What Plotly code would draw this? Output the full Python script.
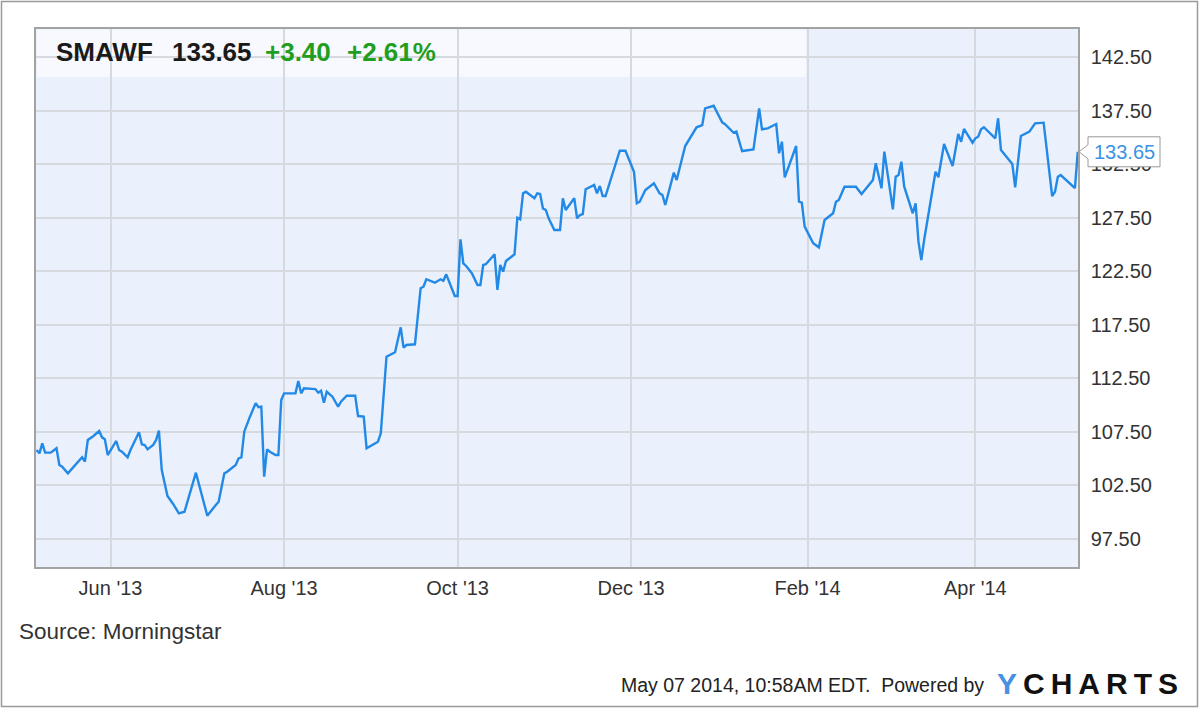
import plotly.graph_objects as go

# SMAWF daily close, May 2013 - May 2014
dates = [
    "2013-05-06", "2013-05-07", "2013-05-08", "2013-05-09", "2013-05-11", "2013-05-13", "2013-05-14", "2013-05-15", "2013-05-17", "2013-05-19",
    "2013-05-22", "2013-05-23", "2013-05-24", "2013-05-26", "2013-05-28", "2013-05-29", "2013-05-30", "2013-05-31", "2013-06-01", "2013-06-03",
    "2013-06-04", "2013-06-05", "2013-06-07", "2013-06-08", "2013-06-11", "2013-06-12", "2013-06-13", "2013-06-14", "2013-06-16", "2013-06-17",
    "2013-06-18", "2013-06-19", "2013-06-21", "2013-06-23", "2013-06-25", "2013-06-27", "2013-07-01", "2013-07-05", "2013-07-08", "2013-07-09",
    "2013-07-11", "2013-07-12", "2013-07-15", "2013-07-16", "2013-07-17", "2013-07-18", "2013-07-20", "2013-07-22", "2013-07-23", "2013-07-24",
    "2013-07-25", "2013-07-26", "2013-07-27", "2013-07-29", "2013-07-30", "2013-07-31", "2013-08-01", "2013-08-05", "2013-08-06", "2013-08-07",
    "2013-08-08", "2013-08-12", "2013-08-13", "2013-08-14", "2013-08-15", "2013-08-16", "2013-08-18", "2013-08-20", "2013-08-21", "2013-08-23",
    "2013-08-26", "2013-08-27", "2013-08-29", "2013-08-30", "2013-09-03", "2013-09-04", "2013-09-06", "2013-09-09", "2013-09-11", "2013-09-12",
    "2013-09-13", "2013-09-16", "2013-09-18", "2013-09-19", "2013-09-20", "2013-09-23", "2013-09-25", "2013-09-26", "2013-09-27", "2013-09-30",
    "2013-10-01", "2013-10-02", "2013-10-03", "2013-10-04", "2013-10-06", "2013-10-08", "2013-10-09", "2013-10-10", "2013-10-11", "2013-10-14",
    "2013-10-15", "2013-10-16", "2013-10-17", "2013-10-18", "2013-10-21", "2013-10-22", "2013-10-23", "2013-10-24", "2013-10-25", "2013-10-28",
    "2013-10-29", "2013-10-30", "2013-10-31", "2013-11-01", "2013-11-02", "2013-11-04", "2013-11-06", "2013-11-07", "2013-11-08", "2013-11-11",
    "2013-11-12", "2013-11-13", "2013-11-14", "2013-11-15", "2013-11-18", "2013-11-19", "2013-11-20", "2013-11-21", "2013-11-22", "2013-11-25",
    "2013-11-27", "2013-11-29", "2013-12-02", "2013-12-03", "2013-12-04", "2013-12-06", "2013-12-09", "2013-12-11", "2013-12-12", "2013-12-13",
    "2013-12-16", "2013-12-17", "2013-12-19", "2013-12-20", "2013-12-24", "2013-12-26", "2013-12-27", "2013-12-30", "2014-01-02", "2014-01-03",
    "2014-01-06", "2014-01-07", "2014-01-09", "2014-01-13", "2014-01-15", "2014-01-16", "2014-01-18", "2014-01-21", "2014-01-22", "2014-01-23",
    "2014-01-24", "2014-01-28", "2014-01-29", "2014-01-30", "2014-01-31", "2014-02-03", "2014-02-05", "2014-02-07", "2014-02-10", "2014-02-11",
    "2014-02-12", "2014-02-14", "2014-02-18", "2014-02-20", "2014-02-24", "2014-02-25", "2014-02-27", "2014-02-28", "2014-03-03", "2014-03-04",
    "2014-03-05", "2014-03-06", "2014-03-07", "2014-03-10", "2014-03-11", "2014-03-12", "2014-03-13", "2014-03-14", "2014-03-18", "2014-03-19",
    "2014-03-21", "2014-03-24", "2014-03-26", "2014-03-27", "2014-03-28", "2014-03-31", "2014-04-01", "2014-04-02", "2014-04-03", "2014-04-04",
    "2014-04-08", "2014-04-09", "2014-04-10", "2014-04-13", "2014-04-14", "2014-04-15", "2014-04-17", "2014-04-20", "2014-04-22", "2014-04-25",
    "2014-04-28", "2014-04-29", "2014-04-30", "2014-05-01", "2014-05-06", "2014-05-07",
]
prices = [
    105.81, 105.50, 106.43, 105.56, 105.56, 105.97, 104.41, 104.25, 103.63, 104.19,
    105.13, 104.72, 106.74, 107.12, 107.58, 106.99, 106.81, 105.34, 105.81, 106.65,
    105.81, 105.65, 105.13, 105.81, 107.46, 106.34, 106.28, 105.87, 106.28, 106.74,
    107.61, 103.94, 101.51, 100.77, 99.90, 100.05, 103.69, 99.68, 100.67, 100.98,
    103.63, 103.78, 104.41, 105.03, 105.13, 107.52, 108.92, 110.17, 109.80, 109.85,
    103.32, 105.87, 105.65, 105.34, 105.34, 110.48, 111.10, 111.10, 112.25, 111.10,
    111.57, 111.50, 111.16, 111.35, 110.22, 111.25, 110.79, 109.85, 110.32, 110.88,
    110.88, 108.98, 108.92, 105.97, 106.58, 107.37, 114.52, 114.93, 117.26, 115.36,
    115.61, 115.68, 120.91, 121.05, 121.75, 121.43, 121.75, 121.61, 122.21, 120.19,
    120.19, 125.48, 123.24, 122.99, 122.31, 121.21, 121.21, 123.08, 123.17, 124.08,
    120.75, 123.08, 122.46, 123.45, 124.08, 127.50, 127.35, 129.77, 129.92, 129.31,
    129.77, 129.71, 128.37, 128.22, 127.44, 126.35, 126.35, 129.31, 128.22, 129.31,
    127.44, 127.75, 127.84, 130.15, 130.55, 129.77, 130.46, 129.52, 129.52, 131.95,
    133.75, 133.75, 131.79, 128.84, 128.99, 130.08, 130.71, 129.77, 129.62, 128.68,
    131.70, 131.02, 133.04, 134.19, 135.94, 136.15, 137.71, 137.95, 136.40, 136.22,
    135.43, 135.53, 133.72, 133.88, 137.71, 135.75, 135.84, 136.24, 133.51, 134.59,
    131.27, 134.19, 128.99, 128.90, 126.66, 125.11, 124.73, 127.28, 127.91, 128.99,
    129.15, 130.39, 130.39, 129.71, 131.02, 132.58, 130.24, 133.66, 128.28, 131.32,
    131.48, 132.72, 130.39, 127.91, 128.84, 125.26, 123.55, 125.41, 131.79, 131.27,
    134.38, 132.32, 135.31, 134.59, 135.78, 134.50, 134.91, 135.06, 135.75, 135.94,
    134.91, 136.78, 133.82, 132.88, 132.51, 130.33, 135.12, 135.53, 136.31, 136.37,
    129.52, 129.92, 131.32, 131.48, 130.25, 133.65,
]

ticker = "SMAWF"
last_price = 133.65
change = "+3.40"
change_pct = "+2.61%"
y_ticks = [97.5, 102.5, 107.5, 112.5, 117.5, 122.5, 127.5, 132.5, 137.5, 142.5]
source_text = "Source: Morningstar"
footer_text = "May 07 2014, 10:58AM EDT.&nbsp; Powered by"

W, H = 1200, 709
L, R, T, B = 36, 1078, 29, 567  # plot area in pixels
FONT = "Liberation Sans, Arial, sans-serif"
LINE_BLUE = "#2389e6"
GREEN = "#1f9e1f"


def px_x(x):
    return (x - L) / (R - L)


def px_y(y):
    return (B - y) / (B - T)


fig = go.Figure()
fig.add_trace(
    go.Scatter(
        x=dates,
        y=prices,
        mode="lines",
        line=dict(color=LINE_BLUE, width=2.4),
        hoverinfo="skip",
    )
)

fig.update_layout(
    width=W,
    height=H,
    margin=dict(l=L, r=W - R, t=T, b=H - B),
    paper_bgcolor="white",
    plot_bgcolor="#eaf1fc",
    showlegend=False,
    font=dict(family=FONT, size=20, color="#333333"),
)

fig.update_xaxes(
    range=["2013-05-05 19:00", "2014-05-07 02:00"],
    tick0="2013-06-01",
    dtick="M2",
    tickformat="%b '%y",
    showgrid=True,
    gridcolor="#d6d9dd",
    gridwidth=1.5,
    showline=True,
    linecolor="#a3a3a3",
    linewidth=1.5,
    mirror=True,
    ticks="",
    ticklabelstandoff=2,
    tickfont=dict(size=20, color="#333333"),
    zeroline=False,
)

fig.update_yaxes(
    side="right",
    range=[94.886, 145.114],
    tickvals=y_ticks,
    tickformat=".2f",
    showgrid=True,
    gridcolor="#d6d9dd",
    gridwidth=1.5,
    showline=True,
    linecolor="#a3a3a3",
    linewidth=1.5,
    mirror=True,
    ticks="",
    ticklabelstandoff=7,
    tickfont=dict(size=20, color="#333333"),
    zeroline=False,
)

shapes = [
    # outer chart frame
    dict(type="rect", xref="paper", yref="paper",
         x0=px_x(1.5), x1=px_x(1197.5), y0=px_y(706.5), y1=px_y(1.5),
         line=dict(color="#9a9a9a", width=1.5), fillcolor="rgba(0,0,0,0)", layer="below"),
    # light header band behind the ticker
    dict(type="rect", xref="paper", yref="paper",
         x0=px_x(37), x1=px_x(806), y0=px_y(77), y1=px_y(29.5),
         line=dict(width=0), fillcolor="rgba(255,255,255,0.6)", layer="between"),
    # last price flag with notch
    dict(type="path", xref="paper", yref="y",
         xsizemode="pixel", xanchor=1, ysizemode="pixel", yanchor=last_price,
         path="M 1,0 L 10,7 L 10,15 L 82,15 L 82,-15 L 10,-15 L 10,-7 Z",
         line=dict(color="#9a9a9a", width=1), fillcolor="white", layer="above"),
]
fig.update_layout(shapes=shapes)


def header(x, text, color):
    return dict(
        x=px_x(x), y=px_y(52), xref="paper", yref="paper",
        xanchor="left", yanchor="middle", showarrow=False,
        text=f"<b>{text}</b>",
        font=dict(size=26, color=color, family=FONT),
    )


annotations = [
    header(54, ticker, "#1a1a1a"),
    header(170, f"{last_price:.2f}", "#1a1a1a"),
    header(263, change, GREEN),
    header(345, change_pct, GREEN),
    dict(
        x=px_x(R + 46), y=last_price, xref="paper", yref="y",
        xanchor="center", yanchor="middle", showarrow=False,
        text=f"{last_price:.2f}",
        font=dict(size=20, color="#3a93e6", family=FONT),
    ),
    dict(
        x=px_x(17), y=px_y(632), xref="paper", yref="paper",
        xanchor="left", yanchor="middle", showarrow=False,
        text=source_text,
        font=dict(size=22.5, color="#333333", family=FONT),
    ),
    dict(
        x=px_x(986), y=px_y(685), xref="paper", yref="paper",
        xanchor="right", yanchor="middle", showarrow=False,
        text=footer_text,
        font=dict(size=19.5, color="#222222", family=FONT),
    ),
    dict(
        x=px_x(995), y=px_y(683), xref="paper", yref="paper",
        xanchor="left", yanchor="middle", showarrow=False,
        text=("<b><span style='color:#4a90e2;letter-spacing:6px'>Y</span>"
              "<span style='letter-spacing:6px'>CHARTS</span></b>"),
        font=dict(size=30, color="#111111", family=FONT),
    ),
]
fig.update_layout(annotations=annotations)

# drop the browser's default body margin so the chart sits at the page origin
fig.write_html(
    "out.html",
    config={"displayModeBar": False},
    post_script="document.body.style.margin='0';",
)
